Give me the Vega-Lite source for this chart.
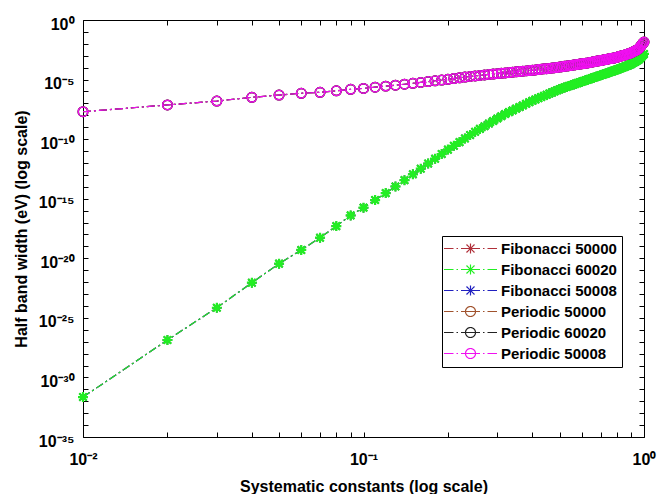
{
  "$schema": "https://vega.github.io/schema/vega-lite/v6.json",
  "width": 561,
  "height": 417,
  "autosize": {"type": "none"},
  "padding": {"left": 83, "top": 20, "right": 16, "bottom": 57},
  "background": "white",
  "config": {"view": {"stroke": null}, "font": "Liberation Sans"},
  "data": {"values": [
    {"x":0.01,"f":2.24e-32,"p":2.00e-8},{"x":0.02,"f":1.38e-27,"p":7.41e-8},{"x":0.03,"f":7.08e-25,"p":1.58e-7},{"x":0.04,"f":8.91e-23,"p":3.24e-7},{"x":0.05,"f":3.55e-21,"p":5.01e-7},
    {"x":0.06,"f":5.01e-20,"p":7.08e-7},{"x":0.07,"f":5.37e-19,"p":8.51e-7},{"x":0.08,"f":5.01e-18,"p":1.15e-6},{"x":0.09,"f":3.98e-17,"p":1.51e-6},{"x":0.10,"f":1.78e-16,"p":1.82e-6},
    {"x":0.11,"f":7.76e-16,"p":2.29e-6},{"x":0.12,"f":2.95e-15,"p":2.82e-6},{"x":0.13,"f":1.07e-14,"p":3.39e-6},{"x":0.14,"f":3.63e-14,"p":4.07e-6},{"x":0.15,"f":1.12e-13,"p":4.90e-6},
    {"x":0.16,"f":3.31e-13,"p":5.75e-6},{"x":0.17,"f":8.91e-13,"p":6.76e-6},{"x":0.18,"f":2.29e-12,"p":7.94e-6},{"x":0.19,"f":5.62e-12,"p":9.12e-6},{"x":0.20,"f":1.32e-11,"p":1.05e-5},
    {"x":0.21,"f":2.75e-11,"p":1.23e-5},{"x":0.22,"f":5.62e-11,"p":1.41e-5},{"x":0.23,"f":1.15e-10,"p":1.62e-5},{"x":0.24,"f":2.19e-10,"p":1.82e-5},{"x":0.25,"f":4.17e-10,"p":2.04e-5},
    {"x":0.26,"f":7.24e-10,"p":2.24e-5},{"x":0.27,"f":1.20e-9,"p":2.45e-5},{"x":0.28,"f":2.04e-9,"p":2.69e-5},{"x":0.29,"f":3.31e-9,"p":2.88e-5},{"x":0.30,"f":5.37e-9,"p":3.16e-5},
    {"x":0.31,"f":8.32e-9,"p":3.39e-5},{"x":0.32,"f":1.29e-8,"p":3.63e-5},{"x":0.33,"f":1.86e-8,"p":3.89e-5},{"x":0.34,"f":2.57e-8,"p":4.17e-5},{"x":0.35,"f":3.63e-8,"p":4.47e-5},
    {"x":0.36,"f":4.90e-8,"p":4.79e-5},{"x":0.37,"f":6.76e-8,"p":5.01e-5},{"x":0.38,"f":9.33e-8,"p":5.37e-5},{"x":0.39,"f":1.26e-7,"p":5.75e-5},{"x":0.40,"f":1.66e-7,"p":6.03e-5},
    {"x":0.41,"f":2.14e-7,"p":6.46e-5},{"x":0.42,"f":2.69e-7,"p":6.92e-5},{"x":0.43,"f":3.39e-7,"p":7.41e-5},{"x":0.44,"f":4.27e-7,"p":7.94e-5},{"x":0.45,"f":5.37e-7,"p":8.13e-5},
    {"x":0.46,"f":6.76e-7,"p":8.71e-5},{"x":0.47,"f":8.32e-7,"p":9.33e-5},{"x":0.48,"f":1.02e-6,"p":1.00e-4},{"x":0.49,"f":1.26e-6,"p":1.05e-4},{"x":0.50,"f":1.55e-6,"p":1.12e-4},
    {"x":0.51,"f":1.82e-6,"p":1.20e-4},{"x":0.52,"f":2.14e-6,"p":1.29e-4},{"x":0.53,"f":2.45e-6,"p":1.35e-4},{"x":0.54,"f":2.88e-6,"p":1.45e-4},{"x":0.55,"f":3.31e-6,"p":1.55e-4},
    {"x":0.56,"f":3.80e-6,"p":1.66e-4},{"x":0.57,"f":4.47e-6,"p":1.78e-4},{"x":0.58,"f":5.01e-6,"p":1.86e-4},{"x":0.59,"f":5.89e-6,"p":2.00e-4},{"x":0.60,"f":6.61e-6,"p":2.09e-4},
    {"x":0.61,"f":7.59e-6,"p":2.24e-4},{"x":0.62,"f":8.71e-6,"p":2.34e-4},{"x":0.63,"f":9.77e-6,"p":2.51e-4},{"x":0.64,"f":1.12e-5,"p":2.69e-4},{"x":0.65,"f":1.26e-5,"p":2.88e-4},
    {"x":0.66,"f":1.45e-5,"p":3.09e-4},{"x":0.67,"f":1.62e-5,"p":3.31e-4},{"x":0.68,"f":1.82e-5,"p":3.55e-4},{"x":0.69,"f":2.04e-5,"p":3.80e-4},{"x":0.70,"f":2.29e-5,"p":3.98e-4},
    {"x":0.71,"f":2.57e-5,"p":4.27e-4},{"x":0.72,"f":2.88e-5,"p":4.57e-4},{"x":0.73,"f":3.16e-5,"p":4.79e-4},{"x":0.74,"f":3.55e-5,"p":5.13e-4},{"x":0.75,"f":3.98e-5,"p":5.50e-4},
    {"x":0.76,"f":4.47e-5,"p":5.75e-4},{"x":0.77,"f":4.90e-5,"p":6.17e-4},{"x":0.78,"f":5.50e-5,"p":6.46e-4},{"x":0.79,"f":6.03e-5,"p":6.92e-4},{"x":0.80,"f":6.76e-5,"p":7.41e-4},
    {"x":0.81,"f":7.41e-5,"p":8.13e-4},{"x":0.82,"f":8.51e-5,"p":8.91e-4},{"x":0.83,"f":9.33e-5,"p":9.55e-4},{"x":0.84,"f":1.05e-4,"p":1.05e-3},{"x":0.85,"f":1.15e-4,"p":1.12e-3},
    {"x":0.86,"f":1.29e-4,"p":1.23e-3},{"x":0.87,"f":1.45e-4,"p":1.35e-3},{"x":0.88,"f":1.58e-4,"p":1.45e-3},{"x":0.89,"f":1.74e-4,"p":1.55e-3},{"x":0.90,"f":2.00e-4,"p":1.78e-3},
    {"x":0.91,"f":2.34e-4,"p":2.00e-3},{"x":0.92,"f":2.75e-4,"p":2.29e-3},{"x":0.93,"f":3.09e-4,"p":2.57e-3},{"x":0.94,"f":3.63e-4,"p":2.95e-3},{"x":0.95,"f":4.17e-4,"p":3.39e-3},
    {"x":0.96,"f":5.01e-4,"p":4.07e-3},{"x":0.97,"f":6.61e-4,"p":5.75e-3},{"x":0.98,"f":8.32e-4,"p":7.59e-3},{"x":0.99,"f":1.12e-3,"p":1.07e-2},{"x":1.00,"f":1.41e-3,"p":1.41e-2}
  ]},
  "resolve": {"axis": {"x": "independent", "y": "independent"}},
  "layer": [
    {
      "mark": {"type": "line", "strokeDash": [8, 3, 2, 3], "strokeWidth": 1.2, "point": {"filled": false, "size": 90, "strokeWidth": 1.5, "shape": "M-1,0H1M0,-1V1M-0.75,-0.75L0.75,0.75M-0.75,0.75L0.75,-0.75"}},
      "encoding": {
        "x": {"field": "x", "type": "quantitative", "scale": {"type": "log", "domain": [0.01, 1], "nice": false},
          "axis": {"orient": "bottom", "values": [0.01,0.02,0.03,0.04,0.05,0.06,0.07,0.08,0.09,0.1,0.2,0.3,0.4,0.5,0.6,0.7,0.8,0.9,1],
            "labelExpr": "abs(log(datum.value)/LN10-round(log(datum.value)/LN10))<0.001 ? '10'+replace(replace(replace(replace(replace(replace(''+round(log(datum.value)/LN10),'-','⁻'),'0','⁰'),'1','¹'),'2','²'),'3','³'),'5','⁵') : ''",
            "tickSize": -5, "labelPadding": 19, "labelBaseline": "top", "labelFlush": false, "labelOverlap": false, "grid": false,
            "labelFont": "Liberation Sans", "labelFontSize": 16, "labelFontWeight": "bold", "labelColor": "black",
            "domainColor": "black", "tickColor": "black",
            "title": "Systematic constants (log scale)", "titleFont": "Liberation Sans", "titleFontSize": 16, "titleFontWeight": "bold", "titleColor": "black",
            "titleX": 280.5, "titleY": 54, "titleBaseline": "alphabetic", "titleAlign": "center"}},
        "y": {"field": "f", "type": "quantitative", "scale": {"type": "log", "domain": [1e-35, 1], "nice": false},
          "axis": {"orient": "left", "values": [1,1e-1,1e-2,1e-3,1e-4,1e-5,1e-6,1e-7,1e-8,1e-9,1e-10,1e-11,1e-12,1e-13,1e-14,1e-15,1e-16,1e-17,1e-18,1e-19,1e-20,1e-21,1e-22,1e-23,1e-24,1e-25,1e-26,1e-27,1e-28,1e-29,1e-30,1e-31,1e-32,1e-33,1e-34,1e-35],
            "labelExpr": "round(log(datum.value)/LN10)%5==0 ? '10'+replace(replace(replace(replace(replace(replace(''+round(log(datum.value)/LN10),'-','⁻'),'0','⁰'),'1','¹'),'2','²'),'3','³'),'5','⁵') : ''",
            "tickSize": -5, "labelPadding": 14, "labelOffset": 4, "labelFlush": false, "labelOverlap": false, "grid": false,
            "labelFont": "Liberation Sans", "labelFontSize": 16, "labelFontWeight": "bold", "labelColor": "black",
            "domainColor": "black", "tickColor": "black",
            "title": "Half band width (eV) (log scale)", "titleFont": "Liberation Sans", "titleFontSize": 16, "titleFontWeight": "bold", "titleColor": "black",
            "titleX": -62, "titleY": 208.5, "titleAngle": 270, "titleAlign": "center", "titleBaseline": "middle"}},
        "color": {"datum": "Fibonacci 50000",
          "scale": {"domain": ["Fibonacci 50000", "Fibonacci 60020", "Fibonacci 50008", "Periodic 50000", "Periodic 60020", "Periodic 50008"],
                    "range": ["#b0303a", "#22ee22", "#2020c0", "#a0522d", "#222222", "#f010f0"]},
          "legend": {"title": null, "orient": "none", "legendX": 359, "legendY": 216, "fillColor": "white", "strokeColor": "black", "padding": 5, "rowPadding": 5,
            "labelFont": "Liberation Sans", "labelFontSize": 15, "labelFontWeight": "bold", "labelColor": "black",
            "labelExpr": "datum.label + '\u00a0\u00a0'",
            "symbolSize": 100, "symbolStrokeWidth": 1.2, "symbolOffset": 16, "labelOffset": 23,
            "encode": {"symbols": {"update": {
              "shape": {"signal": "indexof(datum.value,'Periodic')==0 ? 'M-5.3,0H-3.4M-2.8,0H-2.5M-1.9,0H1.9M2.5,0H2.8M3.4,0H5.3M1,0A1,1,0,1,1,-1,0A1,1,0,1,1,1,0' : 'M-5.3,0H-3.4M-2.8,0H-2.5M-1.9,0H1.9M2.5,0H2.8M3.4,0H5.3M0,-1V1M-0.8,-0.8L0.8,0.8M-0.8,0.8L0.8,-0.8'"},
              "fill": {"value": "transparent"},
              "strokeDash": {"value": [1, 0]}}}}}}
      }
    },
    {
      "mark": {"type": "line", "strokeDash": [8, 3, 2, 3], "strokeWidth": 1.2, "point": {"filled": false, "size": 90, "strokeWidth": 1.5, "shape": "M-1,0H1M0,-1V1M-0.75,-0.75L0.75,0.75M-0.75,0.75L0.75,-0.75"}},
      "encoding": {
        "x": {"field": "x", "type": "quantitative",
          "axis": {"orient": "top", "values": [0.01,0.02,0.03,0.04,0.05,0.06,0.07,0.08,0.09,0.1,0.2,0.3,0.4,0.5,0.6,0.7,0.8,0.9,1], "labels": false, "tickSize": -5, "grid": false, "title": null, "domainColor": "black", "tickColor": "black"}},
        "y": {"field": "f", "type": "quantitative",
          "axis": {"orient": "right", "values": [1,1e-1,1e-2,1e-3,1e-4,1e-5,1e-6,1e-7,1e-8,1e-9,1e-10,1e-11,1e-12,1e-13,1e-14,1e-15,1e-16,1e-17,1e-18,1e-19,1e-20,1e-21,1e-22,1e-23,1e-24,1e-25,1e-26,1e-27,1e-28,1e-29,1e-30,1e-31,1e-32,1e-33,1e-34,1e-35], "labels": false, "tickSize": -5, "grid": false, "title": null, "domainColor": "black", "tickColor": "black"}},
        "color": {"datum": "Fibonacci 50008"}
      }
    },
    {
      "mark": {"type": "line", "strokeDash": [8, 3, 2, 3], "strokeWidth": 1.2, "point": {"filled": false, "size": 100, "strokeWidth": 2.2, "shape": "M-1,0H1M0,-1V1M-0.75,-0.75L0.75,0.75M-0.75,0.75L0.75,-0.75"}},
      "encoding": {
        "x": {"field": "x", "type": "quantitative", "axis": null},
        "y": {"field": "f", "type": "quantitative", "axis": null},
        "color": {"datum": "Fibonacci 60020"}
      }
    },
    {
      "mark": {"type": "line", "strokeDash": [8, 3, 2, 3], "strokeWidth": 1.2, "point": {"filled": false, "size": 90, "strokeWidth": 1.5, "shape": "circle"}},
      "encoding": {
        "x": {"field": "x", "type": "quantitative", "axis": null},
        "y": {"field": "p", "type": "quantitative", "axis": null},
        "color": {"datum": "Periodic 50000"}
      }
    },
    {
      "mark": {"type": "line", "strokeDash": [8, 3, 2, 3], "strokeWidth": 1.2, "point": {"filled": false, "size": 90, "strokeWidth": 1.5, "shape": "circle"}},
      "encoding": {
        "x": {"field": "x", "type": "quantitative", "axis": null},
        "y": {"field": "p", "type": "quantitative", "axis": null},
        "color": {"datum": "Periodic 60020"}
      }
    },
    {
      "mark": {"type": "line", "strokeDash": [8, 3, 2, 3], "strokeWidth": 1.2, "point": {"filled": false, "size": 90, "strokeWidth": 1.5, "shape": "circle"}},
      "encoding": {
        "x": {"field": "x", "type": "quantitative", "axis": null},
        "y": {"field": "p", "type": "quantitative", "axis": null},
        "color": {"datum": "Periodic 50008"}
      }
    }
  ]
}
